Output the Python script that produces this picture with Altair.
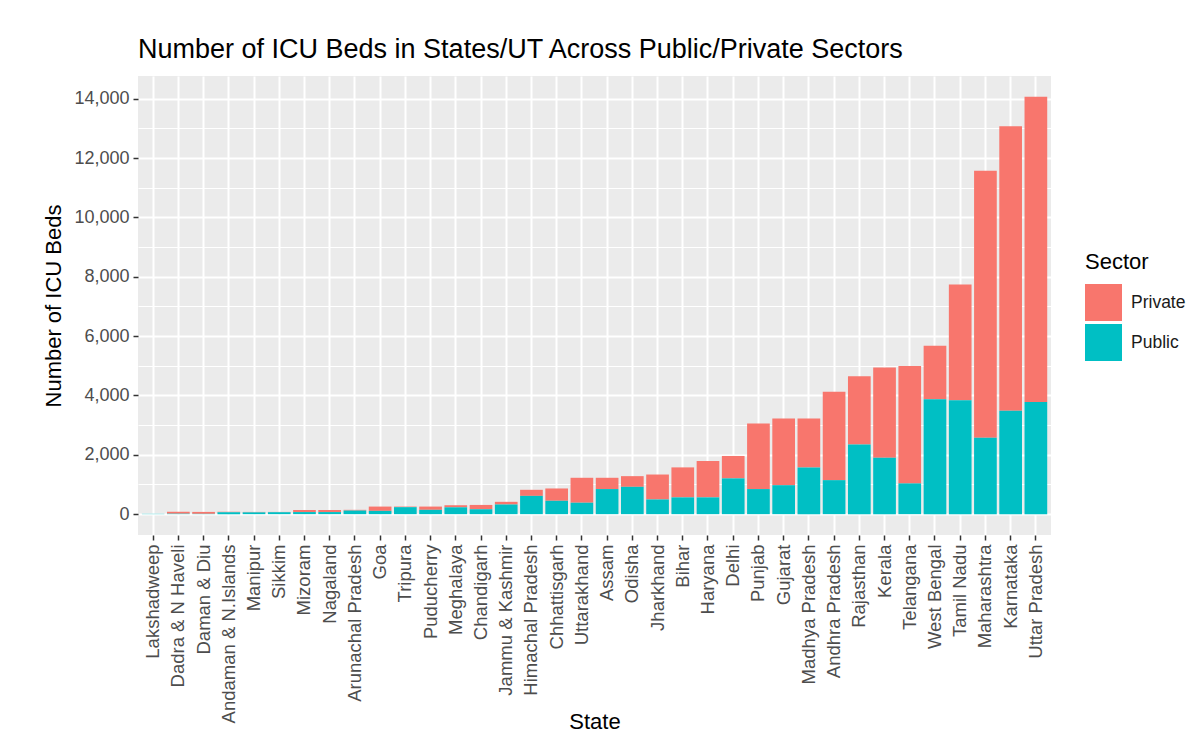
import altair as alt
import pandas as pd

states = [
    "Lakshadweep", "Dadra & N Haveli", "Daman & Diu", "Andaman & N.Islands",
    "Manipur", "Sikkim", "Mizoram", "Nagaland", "Arunachal Pradesh", "Goa",
    "Tripura", "Puducherry", "Meghalaya", "Chandigarh", "Jammu & Kashmir",
    "Himachal Pradesh", "Chhattisgarh", "Uttarakhand", "Assam", "Odisha",
    "Jharkhand", "Bihar", "Haryana", "Delhi", "Punjab", "Gujarat",
    "Madhya Pradesh", "Andhra Pradesh", "Rajasthan", "Kerala", "Telangana",
    "West Bengal", "Tamil Nadu", "Maharashtra", "Karnataka", "Uttar Pradesh",
]
public_beds = [10, 15, 10, 60, 60, 65, 70, 70, 120, 110, 235, 145, 230, 165, 325,
               615, 450, 385, 845, 920, 495, 565, 565, 1205, 845, 975,
               1570, 1145, 2350, 1900, 1035, 3875, 3840, 2570, 3480, 3775]
private_beds = [0, 65, 65, 20, 15, 10, 70, 70, 25, 145, 20, 110, 70, 145, 90,
                205, 415, 840, 380, 360, 840, 1010, 1225, 755, 2210, 2250,
                1655, 2975, 2300, 3040, 3960, 1795, 3900, 9000, 9590, 10285]
sectors = ["Private", "Public"]
sector_colors = ["#F8766D", "#00BFC4"]
y_ticks = list(range(0, 15000, 1000))

rows = []
for s, pu, pr in zip(states, public_beds, private_beds):
    rows.append({"State": s, "Sector": "Private", "Beds": pr, "ord": 1})
    rows.append({"State": s, "Sector": "Public", "Beds": pu, "ord": 0})
df = pd.DataFrame(rows)

ymax = max(p + q for p, q in zip(public_beds, private_beds))
ydom = [-0.05 * ymax, ymax * 1.05]

FONT = "Liberation Sans"

chart = alt.Chart(df).mark_bar().encode(
    x=alt.X("State:N", sort=states,
            scale=alt.Scale(paddingInner=0.1, paddingOuter=0.15),
            axis=alt.Axis(title="State", labelAngle=-90, labelAlign="right",
                          labelBaseline="middle", labelFontSize=18.5,
                          labelColor="#4D4D4D", labelPadding=4, labelLimit=400,
                          labelOverlap=False, labelFont=FONT,
                          titleFont=FONT, titleFontSize=22, titleFontWeight="normal",
                          titleColor="#000000", titleBaseline="alphabetic",
                          titleY=193,
                          tickColor="#333333", tickSize=5, tickWidth=1.5,
                          grid=True, gridColor="#FFFFFF", gridWidth=2,
                          bandPosition=0.5, domain=False)),
    y=alt.Y("Beds:Q", stack="zero",
            scale=alt.Scale(domain=ydom, nice=False, zero=False),
            axis=alt.Axis(title="Number of ICU Beds", values=y_ticks,
                          labelExpr="datum.value % 2000 === 0 ? format(datum.value, ',') : ''",
                          labelFontSize=18, labelColor="#4D4D4D", labelFont=FONT,
                          labelPadding=4,
                          titleFont=FONT, titleFontSize=22, titleFontWeight="normal",
                          titleColor="#000000", titlePadding=8,
                          tickColor="#333333", tickSize=5, tickWidth=1.5,
                          tickOpacity={"condition": {"test": "datum.value % 2000 === 0", "value": 1}, "value": 0},
                          grid=True, gridColor="#FFFFFF",
                          gridWidth={"condition": {"test": "datum.value % 2000 === 0", "value": 2}, "value": 1},
                          domain=False)),
    color=alt.Color("Sector:N",
                    scale=alt.Scale(domain=sectors, range=sector_colors),
                    legend=alt.Legend(title="Sector", orient="none",
                                      legendX=947, legendY=176,
                                      symbolType="square", symbolSize=1369,
                                      symbolStrokeWidth=0, symbolOpacity=1,
                                      titleFont=FONT, titleFontSize=22,
                                      titleFontWeight="normal", titleColor="#000000",
                                      titlePadding=10, labelFont=FONT,
                                      labelFontSize=17.5, labelColor="#1A1A1A",
                                      labelOffset=9, rowPadding=3)),
    order=alt.Order("ord:Q", sort="ascending"),
).properties(
    width=913, height=459,
    background="#FFFFFF",
    autosize=alt.AutoSizeParams(type="none"),
    title=alt.TitleParams("Number of ICU Beds in States/UT Across Public/Private Sectors",
                          anchor="start", frame="group", font=FONT, fontSize=27,
                          fontWeight="normal", color="#000000", offset=12),
    padding={"left": 130, "top": 68, "right": 136, "bottom": 201},
).configure_view(
    fill="#EBEBEB", strokeWidth=0
)

chart.save("out.html", embed_options={"renderer": "svg", "actions": False})
